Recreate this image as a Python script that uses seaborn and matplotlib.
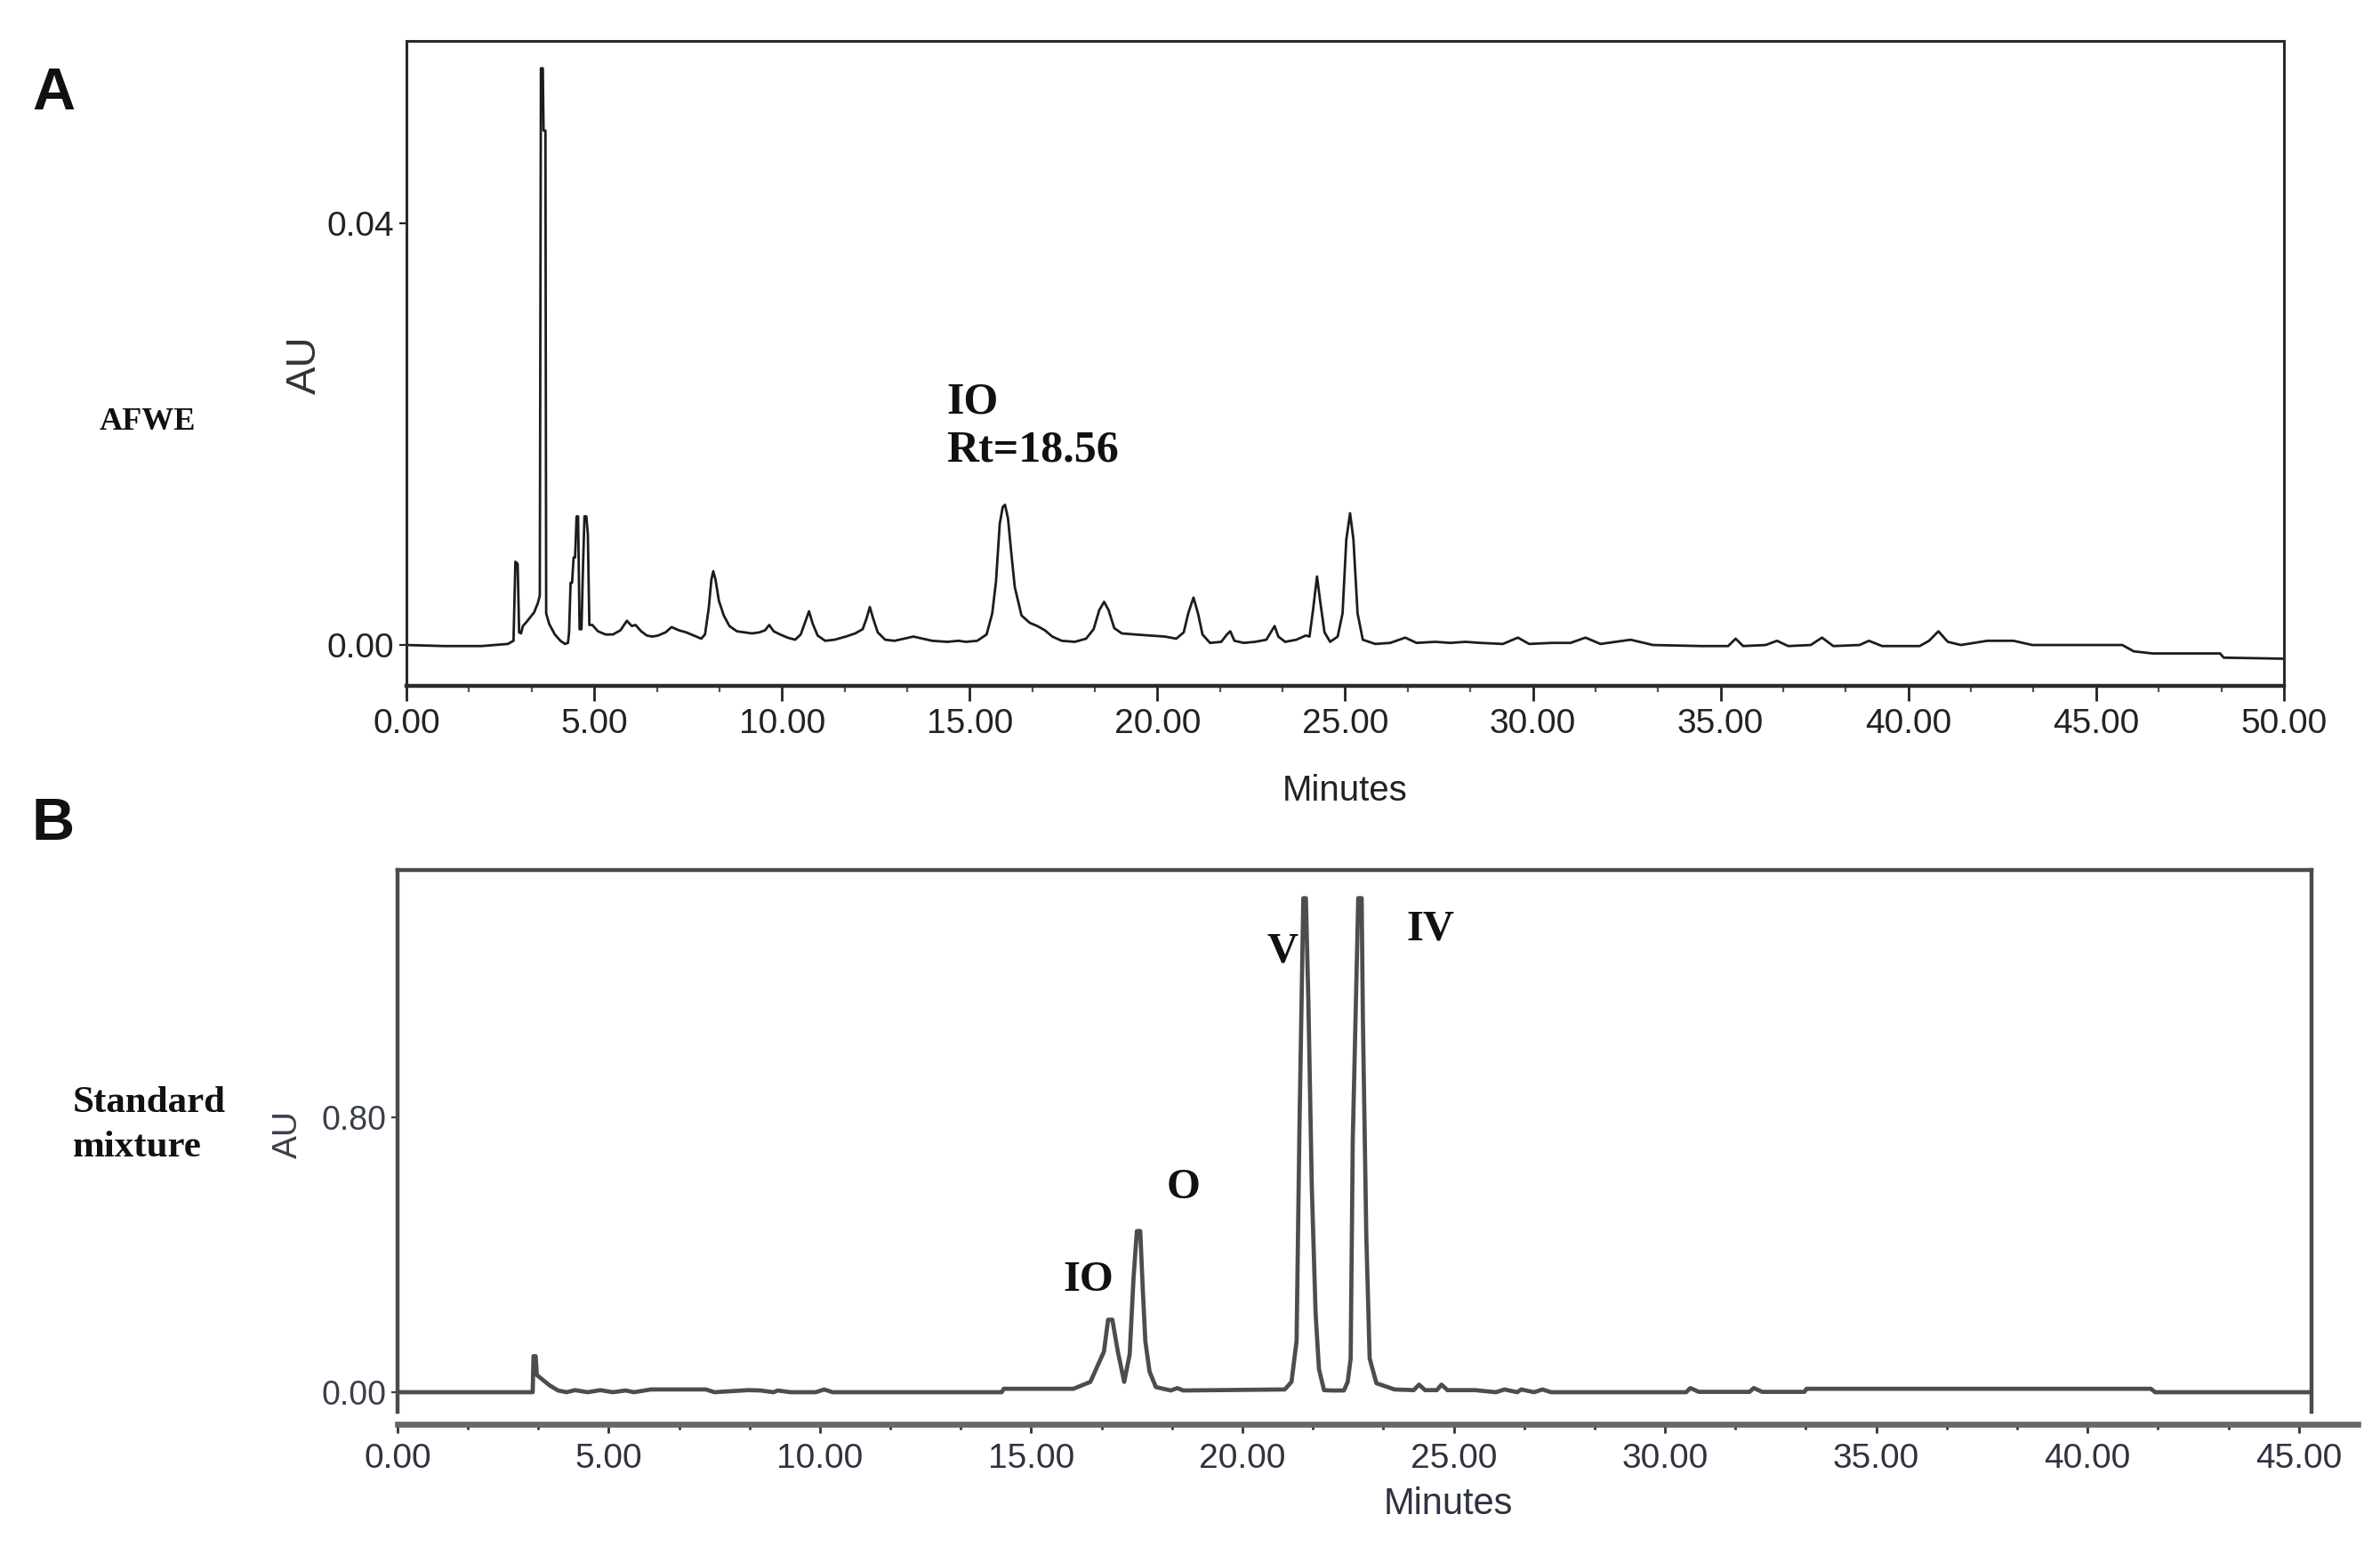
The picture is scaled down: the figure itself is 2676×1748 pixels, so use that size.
import matplotlib
matplotlib.use("Agg")
import matplotlib.pyplot as plt
import numpy as np
import pandas as pd
import seaborn as sns
from matplotlib.ticker import FixedLocator, AutoMinorLocator

# ---------------- data ----------------
# Panel A: AFWE chromatogram (minutes, AU)
afwe_time = [0.00, 1.00, 2.00, 2.70, 2.85, 2.90, 2.96, 3.00, 3.05, 3.10,
             3.20, 3.40, 3.50, 3.55, 3.58, 3.63, 3.65, 3.70, 3.72, 3.80,
             3.95, 4.10, 4.22, 4.30, 4.33, 4.37, 4.41, 4.45, 4.49, 4.53,
             4.57, 4.61, 4.66, 4.70, 4.74, 4.79, 4.83, 4.87, 4.95, 5.10,
             5.30, 5.50, 5.70, 5.87, 6.00, 6.10, 6.25, 6.40, 6.55, 6.70,
             6.90, 7.06, 7.25, 7.45, 7.65, 7.85, 7.95, 8.05, 8.12, 8.17,
             8.23, 8.32, 8.45, 8.60, 8.80, 9.00, 9.20, 9.40, 9.55, 9.66,
             9.78, 9.95, 10.15, 10.35, 10.50, 10.62, 10.72, 10.82, 10.95, 11.15,
             11.40, 11.70, 11.95, 12.15, 12.25, 12.34, 12.43, 12.55, 12.75, 13.00,
             13.25, 13.50, 13.75, 14.00, 14.40, 14.70, 14.90, 15.20, 15.45, 15.60,
             15.70, 15.80, 15.88, 15.94, 16.02, 16.10, 16.20, 16.38, 16.60, 16.80,
             17.00, 17.20, 17.45, 17.80, 18.10, 18.30, 18.45, 18.58, 18.70, 18.85,
             19.05, 19.40, 19.80, 20.20, 20.50, 20.70, 20.82, 20.96, 21.08, 21.20,
             21.40, 21.70, 21.85, 21.94, 22.05, 22.30, 22.60, 22.90, 23.02, 23.12,
             23.22, 23.40, 23.70, 23.95, 24.05, 24.15, 24.25, 24.34, 24.45, 24.60,
             24.80, 24.93, 25.03, 25.13, 25.22, 25.33, 25.47, 25.80, 26.20, 26.60,
             26.90, 27.40, 27.80, 28.20, 28.60, 29.20, 29.60, 29.90, 30.50, 31.00,
             31.40, 31.80, 32.60, 33.20, 34.50, 35.20, 35.40, 35.60, 36.20, 36.50,
             36.80, 37.40, 37.70, 38.00, 38.70, 38.95, 39.30, 40.30, 40.55, 40.80,
             41.05, 41.40, 42.10, 42.80, 43.30, 45.70, 46.00, 46.50, 48.30, 48.40,
             50.00]
afwe_au = [0.0000, -0.0001, -0.0001, 0.0001, 0.0004, 0.0079, 0.0077, 0.0012, 0.0011, 0.0018,
           0.0022, 0.0031, 0.0040, 0.0047, 0.0547, 0.0547, 0.0488, 0.0488, 0.0030, 0.0020,
           0.0010, 0.0004, 0.0001, 0.0002, 0.0012, 0.0059, 0.0059, 0.0083, 0.0083, 0.0122,
           0.0122, 0.0015, 0.0015, 0.0073, 0.0122, 0.0122, 0.0105, 0.0019, 0.0019, 0.0013,
           0.0010, 0.0010, 0.0014, 0.0023, 0.0018, 0.0019, 0.0013, 0.0009, 0.0008, 0.0009,
           0.0012, 0.0017, 0.0014, 0.0012, 0.0009, 0.0006, 0.0010, 0.0035, 0.0062, 0.0070,
           0.0062, 0.0042, 0.0028, 0.0018, 0.0013, 0.0012, 0.0011, 0.0012, 0.0014, 0.0019,
           0.0013, 0.0010, 0.0007, 0.0005, 0.0010, 0.0022, 0.0032, 0.0020, 0.0009, 0.0004,
           0.0005, 0.0008, 0.0011, 0.0015, 0.0025, 0.0036, 0.0025, 0.0012, 0.0005, 0.0004,
           0.0006, 0.0008, 0.0006, 0.0004, 0.0003, 0.0004, 0.0003, 0.0004, 0.0010, 0.0030,
           0.0060, 0.0115, 0.0131, 0.0133, 0.0120, 0.0090, 0.0055, 0.0028, 0.0021, 0.0018,
           0.0014, 0.0008, 0.0004, 0.0003, 0.0006, 0.0015, 0.0033, 0.0041, 0.0033, 0.0016,
           0.0011, 0.0010, 0.0009, 0.0008, 0.0006, 0.0012, 0.0030, 0.0045, 0.0030, 0.0010,
           0.0002, 0.0003, 0.0010, 0.0013, 0.0004, 0.0002, 0.0003, 0.0005, 0.0012, 0.0018,
           0.0008, 0.0003, 0.0005, 0.0009, 0.0008, 0.0035, 0.0065, 0.0040, 0.0012, 0.0003,
           0.0008, 0.0030, 0.0100, 0.0125, 0.0100, 0.0030, 0.0005, 0.0001, 0.0002, 0.0007,
           0.0002, 0.0003, 0.0002, 0.0003, 0.0002, 0.0001, 0.0007, 0.0001, 0.0002, 0.0002,
           0.0007, 0.0001, 0.0005, 0.0000, -0.0001, -0.0001, 0.0006, -0.0001, 0.0000, 0.0004,
           -0.0001, 0.0000, 0.0007, -0.0001, 0.0000, 0.0004, -0.0001, -0.0001, 0.0004, 0.0013,
           0.0003, 0.0000, 0.0004, 0.0004, 0.0000, 0.0000, -0.0006, -0.0008, -0.0008, -0.0012,
           -0.0013]

# Panel B: standard mixture chromatogram (minutes, AU)
std_time = [0.00, 3.20, 3.22, 3.27, 3.30, 3.45, 3.60, 3.80, 4.00, 4.20,
            4.50, 4.80, 5.10, 5.40, 5.60, 6.00, 7.30, 7.50, 8.30, 8.60,
            8.90, 9.00, 9.30, 9.90, 10.10, 10.30, 14.30, 14.35, 16.00, 16.40,
            16.72, 16.82, 16.92, 17.05, 17.20, 17.33, 17.42, 17.50, 17.58, 17.64,
            17.70, 17.80, 17.95, 18.30, 18.46, 18.60, 21.00, 21.16, 21.28, 21.35,
            21.44, 21.50, 21.56, 21.64, 21.73, 21.81, 21.93, 22.10, 22.40, 22.49,
            22.56, 22.61, 22.74, 22.82, 22.85, 22.93, 23.01, 23.17, 23.60, 24.05,
            24.18, 24.32, 24.60, 24.71, 24.85, 25.50, 26.00, 26.20, 26.50, 26.60,
            26.90, 27.10, 27.30, 30.50, 30.60, 30.80, 32.00, 32.10, 32.30, 33.30,
            33.35, 41.50, 41.60, 45.30]
std_au = [0.000, 0.000, 0.105, 0.105, 0.050, 0.035, 0.020, 0.005, 0.000, 0.006,
          0.000, 0.006, 0.000, 0.005, 0.000, 0.008, 0.008, 0.000, 0.006, 0.005,
          0.000, 0.005, 0.000, 0.000, 0.008, 0.000, 0.000, 0.010, 0.010, 0.030,
          0.118, 0.211, 0.211, 0.118, 0.030, 0.110, 0.330, 0.469, 0.469, 0.300,
          0.149, 0.060, 0.015, 0.005, 0.012, 0.005, 0.008, 0.030, 0.149, 0.786,
          1.438, 1.438, 1.135, 0.600, 0.231, 0.067, 0.006, 0.005, 0.005, 0.030,
          0.098, 0.734, 1.438, 1.438, 1.084, 0.457, 0.098, 0.026, 0.008, 0.006,
          0.022, 0.006, 0.006, 0.022, 0.006, 0.006, 0.000, 0.008, 0.000, 0.008,
          0.000, 0.008, 0.000, 0.000, 0.012, 0.001, 0.001, 0.012, 0.001, 0.001,
          0.010, 0.010, 0.000, 0.000]

# ticks and labels
a_xticks = [0, 5, 10, 15, 20, 25, 30, 35, 40, 45, 50]
a_yticks = [0.00, 0.04]
b_xticks = [0, 5, 10, 15, 20, 25, 30, 35, 40, 45]
b_yticks = [0.00, 0.80]
a_peak_labels = ["IO", "Rt=18.56"]
b_peak_labels = ["IO", "O", "V", "IV"]

dfA = pd.DataFrame({"Minutes": afwe_time, "AU": afwe_au})
dfB = pd.DataFrame({"Minutes": std_time, "AU": std_au})

# ---------------- styling ----------------
sns.set_theme(style="white")
plt.rcParams["font.family"] = ["Liberation Sans", "DejaVu Sans"]
SERIF = ["Liberation Serif", "DejaVu Serif"]

fig = plt.figure(figsize=(13.38, 8.74), dpi=200)
fig.patch.set_facecolor("white")

axA = fig.add_axes([0.1708, 0.5589, 0.7888, 0.4148])
axB = fig.add_axes([0.1670, 0.0921, 0.8042, 0.3484])

# ---------------- panel A ----------------
sns.lineplot(data=dfA, x="Minutes", y="AU", ax=axA, color="#1c1c1c", linewidth=1.0,
             estimator=None, sort=False)
axA.set_xlim(0, 50)
axA.set_ylim(-0.00388, 0.0573)
for s in axA.spines.values():
    s.set_color("#2a2a2a")
    s.set_linewidth(1.1)
axA.spines["bottom"].set_linewidth(1.6)
axA.xaxis.set_major_locator(FixedLocator(a_xticks))
axA.xaxis.set_minor_locator(AutoMinorLocator(3))
axA.yaxis.set_major_locator(FixedLocator(a_yticks))
axA.set_xticklabels([f"{v:.2f}" for v in a_xticks])
axA.set_yticklabels([f"{v:.2f}" for v in a_yticks])
axA.tick_params(axis="x", which="major", bottom=True, length=6, width=1.0, pad=3,
                labelsize=14, colors="#222222", direction="out")
axA.tick_params(axis="x", which="minor", bottom=True, length=2.5, width=0.8, color="#555555",
                direction="out")
axA.tick_params(axis="y", which="major", left=True, length=3, width=0.8, pad=2,
                labelsize=14, colors="#222222", direction="out")
axA.set_xlabel("Minutes", fontsize=14.5, color="#222222")
axA.xaxis.set_label_coords(0.5, -0.137)
axA.set_ylabel("AU", fontsize=17, color="#333333")
axA.yaxis.set_label_coords(-0.0436, 0.498)

axA.text(14.39, 0.0230, a_peak_labels[0], ha="left", va="center", family=SERIF,
         weight="bold", fontsize=18, color="#111111")
axA.text(14.39, 0.0184, a_peak_labels[1], ha="left", va="center", family=SERIF,
         weight="bold", fontsize=18, color="#111111")

# ---------------- panel B ----------------
sns.lineplot(data=dfB, x="Minutes", y="AU", ax=axB, color="#4d4d4d", linewidth=1.7,
             estimator=None, sort=False)
axB.set_xlim(0, 45.3)
axB.set_ylim(-0.057, 1.520)
for s in axB.spines.values():
    s.set_color("#4a4a4a")
    s.set_linewidth(1.6)
axB.spines["bottom"].set_position(("outward", 5))
axB.spines["bottom"].set_bounds(0, 46.4)
axB.spines["bottom"].set_color("#666666")
axB.spines["bottom"].set_linewidth(2.4)
axB.xaxis.set_major_locator(FixedLocator(b_xticks))
axB.xaxis.set_minor_locator(AutoMinorLocator(3))
axB.yaxis.set_major_locator(FixedLocator(b_yticks))
axB.set_xticklabels([f"{v:.2f}" for v in b_xticks])
axB.set_yticklabels([f"{v:.2f}" for v in b_yticks])
axB.tick_params(axis="x", which="major", bottom=True, length=3.5, width=1.0, pad=4,
                labelsize=14, colors="#2f3340", direction="out")
axB.tick_params(axis="x", which="minor", bottom=True, length=2, width=1.0, color="#333333",
                direction="out")
axB.tick_params(axis="y", which="major", left=True, length=2.5, width=0.8, pad=2,
                labelsize=13.5, colors="#3a3f4a", direction="out")
axB.set_xlabel("Minutes", fontsize=15, color="#2f3340")
axB.xaxis.set_label_coords(0.549, -0.138)
axB.set_ylabel("AU", fontsize=14, color="#3a3f4a")
axB.yaxis.set_label_coords(-0.049, 0.512)

axB.text(16.36, 0.326, b_peak_labels[0], ha="center", va="center", family=SERIF,
         weight="bold", fontsize=17.5, color="#111111")
axB.text(18.61, 0.596, b_peak_labels[1], ha="center", va="center", family=SERIF,
         weight="bold", fontsize=17.5, color="#111111")
axB.text(20.95, 1.282, b_peak_labels[2], ha="center", va="center", family=SERIF,
         weight="bold", fontsize=17.5, color="#111111")
axB.text(24.44, 1.349, b_peak_labels[3], ha="center", va="center", family=SERIF,
         weight="bold", fontsize=17.5, color="#111111")

# ---------------- panel letters and sample names ----------------
fig.text(0.0224, 0.9394, "A", ha="center", va="center", fontsize=24, weight="bold", color="#111111")
fig.text(0.0224, 0.4697, "B", ha="center", va="center", fontsize=24, weight="bold", color="#111111")
fig.text(0.062, 0.7288, "AFWE", ha="center", va="center", family=SERIF, weight="bold",
         fontsize=13, color="#111111")
fig.text(0.0306, 0.2763, "Standard\nmixture", ha="left", va="center", family=SERIF,
         weight="bold", fontsize=15.5, linespacing=1.4, color="#111111")

fig.savefig("out.png", dpi=200, facecolor="white")
